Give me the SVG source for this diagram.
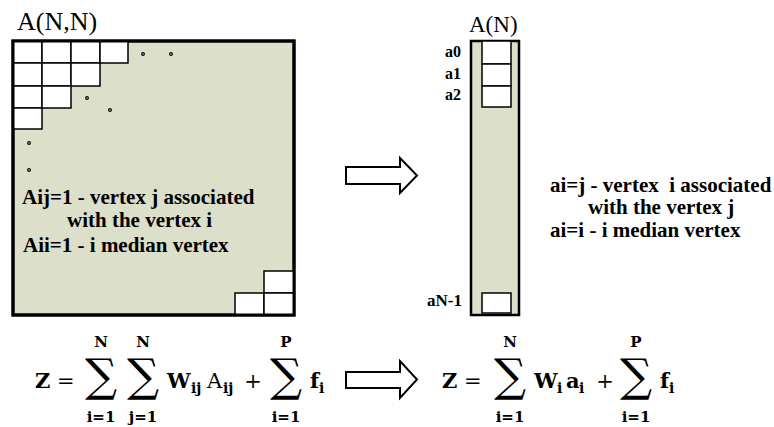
<svg xmlns="http://www.w3.org/2000/svg" width="774" height="427" viewBox="0 0 774 427">
<style>
.bg{fill:#dcdfca;stroke:#000;stroke-width:3}
.cell{fill:#fff;stroke:#000;stroke-width:1.5}
.dot{fill:#fff;stroke:#000;stroke-width:1.3}
.ttl{font-family:"Liberation Serif",serif;font-size:26px;fill:#000}
.lbl{font-family:"Liberation Serif",serif;font-size:21px;font-weight:bold;fill:#000;white-space:pre}
.al{font-family:"Liberation Serif",serif;font-size:16px;font-weight:bold;fill:#000;text-anchor:end}
.m{font-family:"DejaVu Serif",serif;font-weight:bold;font-size:21px;fill:#000}
.mr{font-family:"DejaVu Serif",serif;font-size:21px;fill:#000}
.sub{font-family:"DejaVu Serif",serif;font-weight:bold;font-size:14px;fill:#000}
.lim{font-family:"DejaVu Serif",serif;font-weight:bold;font-size:15px;fill:#000;text-anchor:middle}
.sig{font-family:"DejaVu Serif",serif;font-size:45px;fill:#000;text-anchor:middle}
.arr{fill:#fff;stroke:#000;stroke-width:2;stroke-linejoin:miter}
</style>
<g id="matrix">
<text class="ttl" x="17" y="30">A(N,N)</text>
<rect class="bg" x="13" y="41" width="281" height="274"/>
<rect class="cell" x="13" y="41" width="29" height="22"/>
<rect class="cell" x="42" y="41" width="29" height="22"/>
<rect class="cell" x="71" y="41" width="29" height="22"/>
<rect class="cell" x="100" y="41" width="28" height="22"/>
<rect class="cell" x="13" y="63" width="29" height="23"/>
<rect class="cell" x="42" y="63" width="29" height="23"/>
<rect class="cell" x="71" y="63" width="29" height="23"/>
<rect class="cell" x="13" y="86" width="29" height="22"/>
<rect class="cell" x="42" y="86" width="29" height="22"/>
<rect class="cell" x="13" y="108" width="29" height="21"/>
<rect class="cell" x="264" y="271" width="30" height="22"/>
<rect class="cell" x="235" y="293" width="29" height="22"/>
<rect class="cell" x="264" y="293" width="30" height="22"/>
<rect class="bg" x="13" y="41" width="281" height="274" style="fill:none"/>
<circle class="dot" cx="143" cy="54" r="1.3"/>
<circle class="dot" cx="171" cy="54" r="1.3"/>
<circle class="dot" cx="87" cy="98" r="1.3"/>
<circle class="dot" cx="110" cy="110" r="1.3"/>
<circle class="dot" cx="29" cy="143" r="1.3"/>
<circle class="dot" cx="29" cy="170" r="1.3"/>
<text class="lbl" x="22" y="204">Aij=1 - vertex j associated</text>
<text class="lbl" x="67" y="227">with the vertex i</text>
<text class="lbl" x="23" y="252">Aii=1 - i median vertex</text>
</g>
<g id="vector">
<text class="ttl" x="469" y="32" style="font-size:23px">A(N)</text>
<rect class="bg" x="471" y="41" width="48" height="274" style="stroke-width:2.5"/>
<rect class="cell" x="482" y="41" width="29" height="23"/>
<rect class="cell" x="482" y="64" width="29" height="22"/>
<rect class="cell" x="482" y="86" width="29" height="21"/>
<rect class="cell" x="482" y="293" width="29" height="20"/>
<text class="al" x="461" y="57">a0</text>
<text class="al" x="461" y="79">a1</text>
<text class="al" x="461" y="100">a2</text>
<text class="al" x="462" y="306" style="font-size:17px">aN-1</text>
<text class="lbl" x="550" y="192">ai=j - vertex  i associated</text>
<text class="lbl" x="588" y="214">with the vertex j</text>
<text class="lbl" x="550" y="237">ai=i - i median vertex</text>
</g>
<g id="connectors">
<polygon class="arr" points="346,167 400,167 400,158 417,175.5 400,193 400,184 346,184"/>
<polygon class="arr" points="346,372 400,372 400,361 417,379.5 400,398 400,388 346,388"/>
</g>
<g id="formula-left">
<text class="m" x="35" y="388">Z</text>
<text class="mr" x="57" y="388">=</text>
<text class="sig" x="101" y="391">∑</text>
<text class="lim" x="101" y="347">N</text>
<text class="lim" x="101" y="422">i=1</text>
<text class="sig" x="143" y="391">∑</text>
<text class="lim" x="143" y="347">N</text>
<text class="lim" x="143" y="422">j=1</text>
<text class="m" x="167" y="388">W</text>
<text class="sub" x="191" y="393">ij</text>
<text class="mr" x="207" y="388">A</text>
<text class="sub" x="223" y="393">ij</text>
<text class="mr" x="253" y="388" style="text-anchor:middle">+</text>
<text class="sig" x="286" y="391">∑</text>
<text class="lim" x="286" y="347">P</text>
<text class="lim" x="286" y="422">i=1</text>
<text class="m" x="310" y="388">f</text>
<text class="sub" x="319" y="393">i</text>
</g>
<g id="formula-right">
<text class="m" x="442" y="388">Z</text>
<text class="mr" x="464" y="388">=</text>
<text class="sig" x="510" y="391">∑</text>
<text class="lim" x="510" y="347">N</text>
<text class="lim" x="510" y="422">i=1</text>
<text class="m" x="534" y="388">W</text>
<text class="sub" x="557" y="393">i</text>
<text class="m" x="566" y="388">a</text>
<text class="sub" x="579" y="393">i</text>
<text class="mr" x="605" y="388" style="text-anchor:middle">+</text>
<text class="sig" x="636" y="391">∑</text>
<text class="lim" x="636" y="347">P</text>
<text class="lim" x="636" y="422">i=1</text>
<text class="m" x="660" y="388">f</text>
<text class="sub" x="669" y="393">i</text>
</g>
</svg>
